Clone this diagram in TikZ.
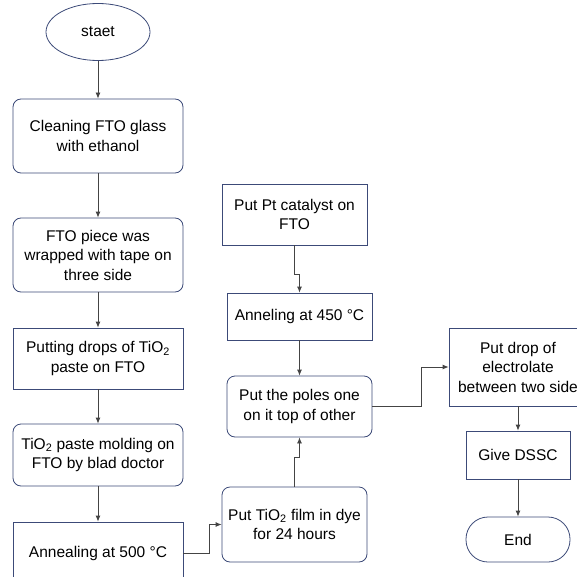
\documentclass[tikz,border=0pt]{standalone}
\usepackage{fontspec}
\setmainfont{Liberation Sans}
\usetikzlibrary{shapes.geometric,arrows.meta}
\definecolor{boxc}{HTML}{3C4A78}
\definecolor{arrc}{HTML}{444444}
\tikzset{
  box/.style={draw=boxc, line width=0.8pt, fill=white, align=center, inner sep=2pt,
    font=\fontsize{15.5}{19.5}\selectfont},
  rbox/.style={box, rounded corners=8pt},
  arr/.style={draw=arrc, line width=0.8pt, -{Latex[length=6pt,width=5pt]}},
}
\begin{document}
\begin{tikzpicture}[x=1pt,y=-1pt]
\useasboundingbox (0,0) rectangle (577,577);
% left column
\node[box, ellipse, minimum width=104pt, minimum height=57pt, inner sep=0pt] (start) at (98,32) {staet};
\node[rbox, minimum width=170pt, minimum height=74pt] (clean) at (98,136) {Cleaning FTO glass\\with ethanol};
\node[rbox, minimum width=170pt, minimum height=74pt] (wrap) at (98,255) {FTO piece was\\wrapped with tape on\\three side};
\node[box, minimum width=170pt, minimum height=61pt] (drops) at (98,358.5) {Putting drops of TiO\textsubscript{2}\\paste on FTO};
\node[rbox, minimum width=170pt, minimum height=62pt] (mold) at (98,455) {TiO\textsubscript{2} paste molding on\\FTO by blad doctor};
\node[box, minimum width=170pt, minimum height=62pt] (ann500) at (98,553) {Annealing at 500 °C};
% middle column
\node[box, minimum width=145pt, minimum height=61pt] (pt) at (294.5,214.5) {Put Pt catalyst on\\FTO};
\node[box, minimum width=145pt, minimum height=47pt] (ann450) at (299.5,316.5) {Anneling at 450 °C};
\node[rbox, minimum width=145pt, minimum height=61pt] (poles) at (299.5,406.5) {Put the poles one\\on it top of other};
\node[rbox, minimum width=145pt, minimum height=75pt] (dye) at (294.5,524.5) {Put TiO\textsubscript{2} film in dye\\for 24 hours};
% right column
\node[box, minimum width=138pt, minimum height=78pt] (elec) at (518,367) {Put drop of\\electrolate\\between two side};
\node[box, minimum width=104pt, minimum height=48pt] (dssc) at (518,455) {Give DSSC};
\node[box, rounded corners=22pt, minimum width=104pt, minimum height=45pt] (end) at (518,539.5) {End};
% connectors
\draw[arr] (start) -- (clean);
\draw[arr] (clean) -- (wrap);
\draw[arr] (wrap) -- (drops);
\draw[arr] (drops) -- (mold);
\draw[arr] (mold) -- (ann500);
\draw[arr] (ann500.east) -- ++(26,0) |- (dye.west);
\draw[arr] (dye.north) -- ++(0,-29) -| (poles.south);
\draw[arr] (pt.south) -- ++(0,29) -| (ann450.north);
\draw[arr] (ann450) -- (poles);
\draw[arr] (poles.east) -- ++(49,0) |- (elec.west);
\draw[arr] (elec) -- (dssc);
\draw[arr] (dssc) -- (end);
\end{tikzpicture}
\end{document}
